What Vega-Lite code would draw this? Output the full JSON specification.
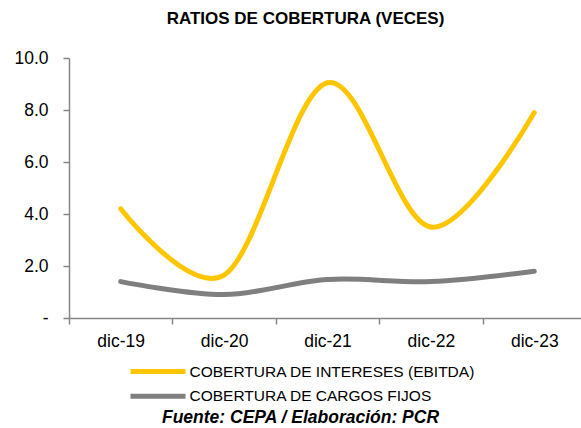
{
  "$schema": "https://vega.github.io/schema/vega-lite/v6.json",
  "width": 517,
  "height": 260,
  "autosize": {"type": "none"},
  "padding": {"left": 69, "top": 58, "right": 0, "bottom": 110},
  "background": "white",
  "config": {
    "font": "Liberation Sans",
    "view": {"stroke": null}
  },
  "title": {
    "text": "RATIOS DE COBERTURA (VECES)",
    "fontSize": 17,
    "fontWeight": "bold",
    "color": "#000000",
    "anchor": "middle",
    "frame": "group",
    "dx": -22,
    "baseline": "alphabetic",
    "offset": 8
  },
  "data": {
    "values": [
      {"periodo": "dic-19", "serie": "COBERTURA DE INTERESES (EBITDA)", "valor": 4.2},
      {"periodo": "dic-20", "serie": "COBERTURA DE INTERESES (EBITDA)", "valor": 1.65},
      {"periodo": "dic-21", "serie": "COBERTURA DE INTERESES (EBITDA)", "valor": 9.05},
      {"periodo": "dic-22", "serie": "COBERTURA DE INTERESES (EBITDA)", "valor": 3.5},
      {"periodo": "dic-23", "serie": "COBERTURA DE INTERESES (EBITDA)", "valor": 7.9},
      {"periodo": "dic-19", "serie": "COBERTURA DE CARGOS FIJOS", "valor": 1.4},
      {"periodo": "dic-20", "serie": "COBERTURA DE CARGOS FIJOS", "valor": 0.9},
      {"periodo": "dic-21", "serie": "COBERTURA DE CARGOS FIJOS", "valor": 1.48},
      {"periodo": "dic-22", "serie": "COBERTURA DE CARGOS FIJOS", "valor": 1.4},
      {"periodo": "dic-23", "serie": "COBERTURA DE CARGOS FIJOS", "valor": 1.8}
    ]
  },
  "mark": {
    "type": "line",
    "interpolate": "cardinal",
    "strokeWidth": 5,
    "strokeCap": "round",
    "strokeJoin": "round",
    "clip": false
  },
  "encoding": {
    "x": {
      "field": "periodo",
      "type": "ordinal",
      "sort": null,
      "scale": {"type": "point", "padding": 0.5},
      "axis": {
        "title": "Fuente: CEPA / Elaboración: PCR",
        "titleFontSize": 17.5,
        "titleFontWeight": "bold",
        "titleFontStyle": "italic",
        "titleColor": "#000000",
        "titleBaseline": "alphabetic",
        "titleAlign": "center",
        "titleAnchor": "start",
        "titleX": 231,
        "titleY": 104,
        "labelAngle": 0,
        "labelFontSize": 17.5,
        "labelColor": "#000000",
        "labelPadding": 8,
        "tickSize": 6,
        "tickOffset": -51.7,
        "labelOffset": 51.7,
        "domainColor": "#868686",
        "tickColor": "#868686",
        "domainWidth": 1.5,
        "tickWidth": 1.5,
        "grid": false
      }
    },
    "y": {
      "field": "valor",
      "type": "quantitative",
      "scale": {"domain": [0, 10], "nice": false, "zero": true},
      "axis": {
        "title": null,
        "values": [0, 2, 4, 6, 8, 10],
        "labelExpr": "datum.value == 0 ? '-\u00a0\u00a0' : format(datum.value, '.1f')",
        "labelFontSize": 17.5,
        "labelColor": "#000000",
        "labelPadding": 15,
        "tickSize": 6,
        "domainColor": "#868686",
        "tickColor": "#868686",
        "domainWidth": 1.5,
        "tickWidth": 1.5,
        "grid": false
      }
    },
    "color": {
      "field": "serie",
      "type": "nominal",
      "sort": ["COBERTURA DE INTERESES (EBITDA)", "COBERTURA DE CARGOS FIJOS"],
      "scale": {
        "domain": ["COBERTURA DE INTERESES (EBITDA)", "COBERTURA DE CARGOS FIJOS"],
        "range": ["#FFC600", "#7F7F7F"]
      },
      "legend": {
        "title": null,
        "orient": "none",
        "direction": "vertical",
        "legendX": 75.5,
        "legendY": 300,
        "padding": 0,
        "symbolType": "M-2.5,0H2.5",
        "symbolSize": 484,
        "symbolStrokeWidth": 5,
        "labelFontSize": 15.5,
        "labelColor": "#000000",
        "labelOffset": 18,
        "labelLimit": 0,
        "rowPadding": 0.7
      }
    }
  }
}
